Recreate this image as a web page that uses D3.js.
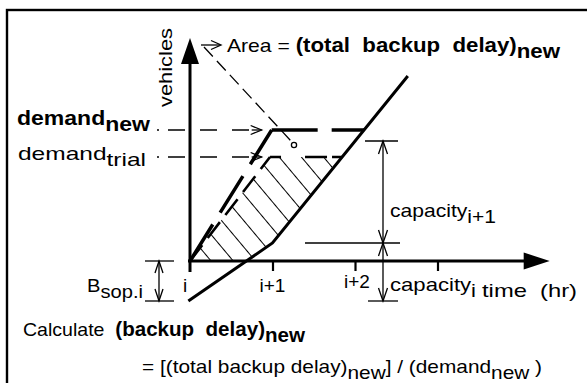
<!DOCTYPE html>
<html><head><meta charset="utf-8">
<script src="https://cdn.jsdelivr.net/npm/d3@7/dist/d3.min.js"></script>
<style>
html,body{margin:0;padding:0;background:#fff;}
svg{display:block;font-family:"Liberation Sans",Arial,Helvetica,sans-serif;}
</style></head><body>
<svg id="c" width="587" height="383"></svg>
<script>
// ---- data (time in hours from period i, vehicles in cumulative units) ----
const timeTicks = [0, 1, 2, 3];
const tickLabels = ["i", "i+1", "i+2", ""];
const timeMax = 4.36;
const vehMax = 223;
const capacityCurve = [[-0.02, -40], [1, 18], [2.64, 185]];
const demandNewValue = 131, demandNewTime = 0.99;
const demandTrialValue = 104, demandTrialTime = 0.97;
const capacityLevels = [-40, 18, 120];   // bottom, kink, top of capacity dimension marks
const bsopLevels = [0, -40];

const svg = d3.select("#c");
const x = d3.scaleLinear().domain([0, 1]).range([190, 272.5]);
const y = d3.scaleLinear().domain([0, vehMax]).range([261, 38]);
const line = d3.line().x(d => x(d[0])).y(d => y(d[1]));

function timeAtCapacity(v) {
  for (let k = 0; k < capacityCurve.length - 1; k++) {
    const [t0, v0] = capacityCurve[k], [t1, v1] = capacityCurve[k + 1];
    if (v >= v0 && v <= v1) return t0 + (v - v0) / (v1 - v0) * (t1 - t0);
  }
  return null;
}

// frame
svg.append("rect").attr("x", 7).attr("y", 10).attr("width", 620).attr("height", 420)
  .attr("fill", "none").attr("stroke", "#000").attr("stroke-width", 2.4);

// hatch pattern
const defs = svg.append("defs");
const pat = defs.append("pattern").attr("id", "hatch").attr("patternUnits", "userSpaceOnUse")
  .attr("width", 20).attr("height", 17)
  .attr("patternTransform", `translate(302,${y(demandTrialValue)}) rotate(50)`);
pat.append("line").attr("x1", 0).attr("y1", 0.5).attr("x2", 20).attr("y2", 0.5)
  .attr("stroke", "#000").attr("stroke-width", 1);

const tTrialCap = timeAtCapacity(demandTrialValue);
const tNewCap = timeAtCapacity(demandNewValue);
const tZero = timeAtCapacity(0);
const hatchPoly = [[0, 0], [demandTrialTime, demandTrialValue], [tTrialCap, demandTrialValue], capacityCurve[1], [tZero, 0]];
svg.append("path").attr("d", line(hatchPoly) + "Z").attr("fill", "url(#hatch)").attr("stroke", "none");

// axes
const axisG = svg.append("g");
axisG.append("line").attr("x1", x(0)).attr("x2", x(0)).attr("y1", y(0) + 11).attr("y2", y(vehMax) + 22)
  .attr("stroke", "#000").attr("stroke-width", 3);
axisG.append("path").attr("d", `M${x(0)},${y(vehMax)}L${x(0) - 9},${y(vehMax) + 26}L${x(0) + 9},${y(vehMax) + 26}Z`).attr("fill", "#000");
axisG.append("line").attr("x1", x(0) - 2).attr("x2", x(timeMax) - 22).attr("y1", y(0)).attr("y2", y(0))
  .attr("stroke", "#000").attr("stroke-width", 3);
axisG.append("path").attr("d", `M${x(timeMax)},${y(0)}L${x(timeMax) - 26},${y(0) - 8.5}L${x(timeMax) - 26},${y(0) + 8.5}Z`).attr("fill", "#000");
const xAxis = d3.axisBottom(x).tickValues(timeTicks.slice(1)).tickSize(10).tickFormat("");
const xg = svg.append("g").attr("transform", `translate(0,${y(0)})`).call(xAxis);
xg.select(".domain").remove();
xg.selectAll(".tick line").attr("stroke", "#000").attr("stroke-width", 2.2);

// capacity curve
svg.append("path").attr("d", line(capacityCurve)).attr("fill", "none").attr("stroke", "#000")
  .attr("stroke-width", 3);

// demand new (thick dashed)
svg.append("path").attr("d", line([[0, 0], [demandNewTime, demandNewValue]])).attr("fill", "none")
  .attr("stroke", "#000").attr("stroke-width", 3.5).attr("stroke-dasharray", "43,14");
svg.append("path").attr("d", line([[demandNewTime, demandNewValue], [tNewCap, demandNewValue]])).attr("fill", "none")
  .attr("stroke", "#000").attr("stroke-width", 3.5).attr("stroke-dasharray", "46,14");
// demand trial (medium dashed)
svg.append("path").attr("d", line([[0, 0], [demandTrialTime, demandTrialValue]])).attr("fill", "none")
  .attr("stroke", "#000").attr("stroke-width", 2.6).attr("stroke-dasharray", "20,9");
svg.append("path").attr("d", line([[demandTrialTime, demandTrialValue], [tTrialCap, demandTrialValue]])).attr("fill", "none")
  .attr("stroke", "#000").attr("stroke-width", 2.6).attr("stroke-dasharray", "11,24,22,5");

// helpers
function openArrow(g, tx, ty, ang, len = 11, half = 4.5) {
  const c = Math.cos(ang), s = Math.sin(ang);
  const bx = tx - len * c, by = ty - len * s;
  g.append("path").attr("d", `M${bx - half * s},${by + half * c}L${tx},${ty}L${bx + half * s},${by - half * c}`)
    .attr("fill", "none").attr("stroke", "#000").attr("stroke-width", 1.3);
}
const thin = svg.append("g").attr("stroke", "#000").attr("stroke-width", 1.3).attr("fill", "none");
function seg(x1, y1, x2, y2, dash) {
  const l = thin.append("line").attr("x1", x1).attr("y1", y1).attr("x2", x2).attr("y2", y2);
  if (dash) l.attr("stroke-dasharray", dash);
  return l;
}

// demand leaders
[[demandNewValue], [demandTrialValue]].forEach(([v]) => {
  const yy = y(v), tip = x(demandNewTime) - 10;
  seg(157, yy, 159, yy);
  seg(168, yy, tip - 10, yy, "17,15");
  seg(tip - 10, yy, tip, yy);
  openArrow(thin, tip, yy, 0, 11, 4.5);
});

// area leader
seg(201, 45, 220, 45);
openArrow(thin, 221, 45, 0, 10, 4.5);
seg(204, 47, 291, 141, "13,6");
thin.append("circle").attr("cx", 294).attr("cy", 145).attr("r", 2.6);

// capacity dimension marks
const dimX = 383;
seg(365, y(capacityLevels[2]), 398, y(capacityLevels[2]));
seg(305, y(capacityLevels[1]), 400, y(capacityLevels[1]));
seg(368, y(capacityLevels[0]), 398, y(capacityLevels[0]));
seg(dimX, y(capacityLevels[2]), dimX, y(capacityLevels[0]));
openArrow(thin, dimX, y(capacityLevels[2]), -Math.PI / 2, 13, 4.5);
openArrow(thin, dimX, y(capacityLevels[1]), Math.PI / 2, 13, 4.5);
openArrow(thin, dimX, y(capacityLevels[1]), -Math.PI / 2, 13, 4.5);
openArrow(thin, dimX, y(capacityLevels[0]), Math.PI / 2, 13, 4.5);
// B_sop dimension
seg(145, y(bsopLevels[0]), 174, y(bsopLevels[0]));
seg(145, y(bsopLevels[1]), 174, y(bsopLevels[1]));
seg(159, y(bsopLevels[0]), 159, y(bsopLevels[1]));
openArrow(thin, 159, y(bsopLevels[0]), -Math.PI / 2, 12, 4);
openArrow(thin, 159, y(bsopLevels[1]), Math.PI / 2, 12, 4);

// text
function rich(xx, yy, parts, opts = {}) {
  const t = svg.append("text").attr("x", xx).attr("y", yy).attr("font-size", opts.size || 19)
    .attr("fill", "#000").style("white-space", "pre");
  if (opts.len) t.attr("textLength", opts.len).attr("lengthAdjust", "spacingAndGlyphs");
  let shift = 0;
  parts.forEach(p => {
    const s = t.append("tspan").text(p.t);
    if (p.bold) s.attr("font-weight", "bold").attr("font-size", opts.bsize || 20);
    const target = p.sub ? (opts.sub || 6) : 0;
    if (target !== shift) { s.attr("dy", target - shift); shift = target; }
  });
  return t;
}

rich(227, 52, [{t: "Area = "}, {t: "(total  backup  delay)", bold: true}, {t: "new", bold: true, sub: true}], {len: 333});
rich(17, 125, [{t: "demand", bold: true}, {t: "new", bold: true, sub: true}], {len: 133});
rich(18, 160, [{t: "demand"}, {t: "trial", sub: true}], {len: 128});
svg.append("text").attr("transform", "translate(172,107) rotate(-90)").attr("font-size", 19)
  .attr("textLength", 79).attr("lengthAdjust", "spacingAndGlyphs").text("vehicles");

// tick labels
const tickPos = [[-7, 292, "start"], [0, 292, "middle"], [2, 288, "middle"]];
tickLabels.forEach((lab, k) => {
  if (!lab) return;
  const [dx, yy, anchor] = tickPos[k];
  svg.append("text").attr("x", x(timeTicks[k]) + dx).attr("y", yy).attr("font-size", 19)
    .attr("text-anchor", anchor).text(lab);
});
rich(87, 292, [{t: "B"}, {t: "sop.i", sub: true}], {len: 56});
rich(390, 217, [{t: "capacity"}, {t: "i+1", sub: true}], {len: 106});
rich(390, 291, [{t: "capacity"}, {t: "i", sub: true}], {len: 86});
rich(482, 297, [{t: "time  (hr)"}], {len: 95});
rich(23, 336, [{t: "Calculate  "}, {t: "(backup  delay)", bold: true}, {t: "new", bold: true, sub: true}], {len: 282});
rich(142, 373, [{t: "= [(total backup delay)"}, {t: "new", sub: true}, {t: "] / (demand"}, {t: "new", sub: true}, {t: " )"}], {len: 400});
</script>
</body></html>
